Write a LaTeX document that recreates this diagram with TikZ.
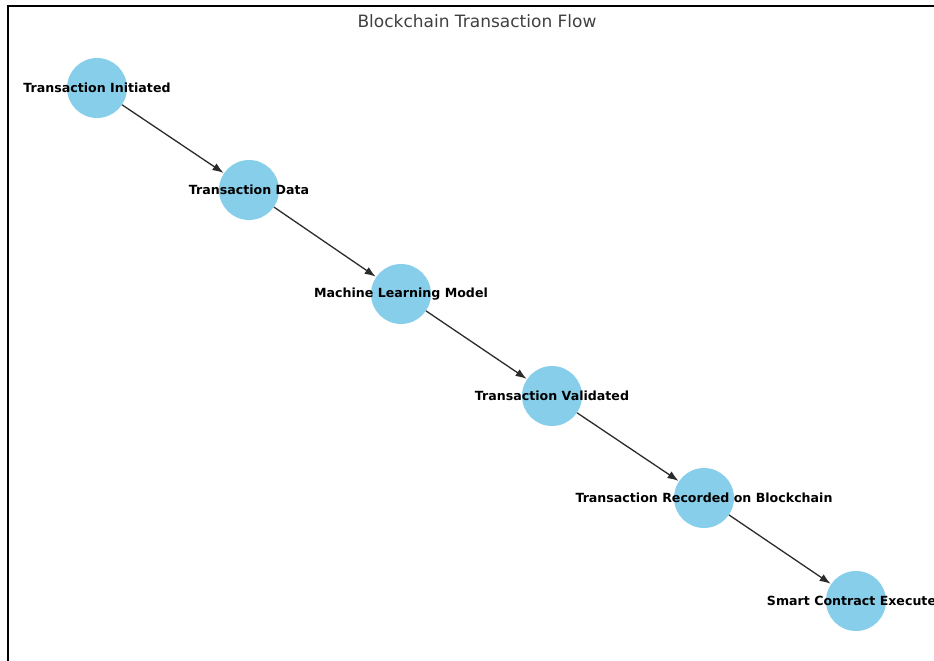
\documentclass[tikz,border=0pt]{standalone}
\usepackage{fontspec}
\setmainfont{DejaVu Sans}
\usetikzlibrary{arrows.meta}
\definecolor{nodeblue}{HTML}{87CEEB}
\definecolor{edgegray}{HTML}{2B2B2B}
\tikzset{
  x=1pt, y=-1pt,
  stage/.style={circle, fill=nodeblue, minimum size=60pt, inner sep=0pt},
  stagelabel/.style={font=\fontsize{12.6}{14}\selectfont\bfseries, text=black, inner sep=0pt},
  flow/.style={draw=edgegray, line width=1.3pt, -{Latex[length=11pt,width=8pt]}, shorten >=0.5pt},
}
\begin{document}
\begin{tikzpicture}
\useasboundingbox (0,0) rectangle (934,661);
% axes frame (only top and left sides fall inside the page)
\draw[line width=2pt] (8,670) -- (8,6) -- (945,6);
\node[font=\fontsize{17}{19}\selectfont, text=black!75] (title) at (477,21) {Blockchain Transaction Flow};

% stages
\node[stage] (s1) at (97,88) {};
\node[stage] (s2) at (249,190) {};
\node[stage] (s3) at (401,294) {};
\node[stage] (s4) at (552,396) {};
\node[stage] (s5) at (704,498) {};
\node[stage] (s6) at (856,601) {};

% connectors
\draw[flow] (s1) -- (s2);
\draw[flow] (s2) -- (s3);
\draw[flow] (s3) -- (s4);
\draw[flow] (s4) -- (s5);
\draw[flow] (s5) -- (s6);

% labels
\node[stagelabel] (l1) at (s1) {Transaction Initiated};
\node[stagelabel] (l2) at (s2) {Transaction Data};
\node[stagelabel] (l3) at (s3) {Machine Learning Model};
\node[stagelabel] (l4) at (s4) {Transaction Validated};
\node[stagelabel] (l5) at (s5) {Transaction Recorded on Blockchain};
\node[stagelabel] (l6) at (s6) {Smart Contract Executed};
\end{tikzpicture}
\end{document}
